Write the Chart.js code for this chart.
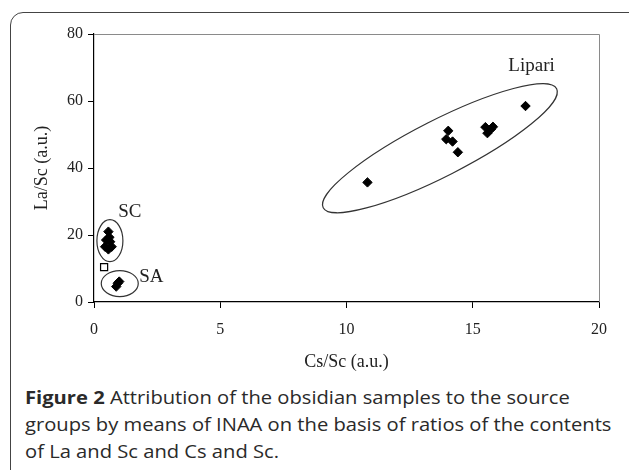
<!DOCTYPE html>
<html>
<head>
<meta charset="utf-8">
<script src="https://cdn.jsdelivr.net/npm/chart.js@4/dist/chart.umd.min.js"></script>
<style>
  html, body { margin: 0; padding: 0; background: #fff; width: 629px; height: 470px; overflow: hidden; }
  #frame { position: absolute; left: 10px; top: 12px; width: 700px; height: 520px;
           border: 1.5px solid #444; border-radius: 13px; box-sizing: border-box; }
  #wrap { position: absolute; left: 0; top: 0; width: 629px; height: 380px; }
  #caption { position: absolute; left: 25px; top: 384px; width: 560px;
             font-family: "Open Sans", sans-serif; font-size: 18px; line-height: 27px; color: #2a2a2a;
             white-space: nowrap; transform: scaleX(1.12); transform-origin: left top; }
  #caption b { font-weight: 700; }
</style>
</head>
<body>
<div id="frame"></div>
<div id="wrap"><canvas id="myChart"></canvas></div>
<div id="caption"><b>Figure 2</b> Attribution of the obsidian samples to the source<br>groups by means of INAA on the basis of ratios of the contents<br>of La and Sc and Cs and Sc.</div>
<script>
// Cs/Sc (x) and La/Sc (y) for each source group
const lipariCs = [10.83, 14.03, 13.95, 14.2, 14.41, 15.5, 15.58, 15.72, 15.8, 17.09];
const lipariLa = [35.7, 51.1, 48.6, 47.9, 44.7, 52.2, 50.4, 51.6, 52.3, 58.5];
const scCs = [0.57, 0.48, 0.64, 0.44, 0.7, 0.57, 0.61];
const scLa = [21.0, 18.5, 18.0, 16.5, 16.5, 15.7, 19.3];
const saCs = [0.94, 0.88, 1.0];
const saLa = [5.6, 4.6, 6.1];
const otherCs = [0.4];
const otherLa = [10.4];
const xTicks = [0, 5, 10, 15, 20];
const yTicks = [0, 20, 40, 60, 80];

const pts = (xs, ys) => xs.map((x, i) => ({x: x, y: ys[i]}));

// group ellipses (centre in data units, radii in px) and group labels
const groupEllipses = [
  {cx: 13.7, cy: 45.9, rx: 131, ry: 28, rot: -27},
  {cx: 0.63, cy: 18.3, rx: 13, ry: 21, rot: 0},
  {cx: 1.02, cy: 5.5, rx: 18.5, ry: 13, rot: 0}
];
const groupLabels = [
  {text: 'Lipari', x: 17.33, y: 70.3, align: 'center'},
  {text: 'SC', x: 0.96, y: 27.0, align: 'left'},
  {text: 'SA', x: 1.79, y: 7.6, align: 'left'}
];

const serif = '"Liberation Serif", "Times New Roman", serif';

const groupsPlugin = {
  id: 'groups',
  afterDatasetsDraw(chart) {
    const ctx = chart.ctx, xs = chart.scales.x, ys = chart.scales.y, area = chart.chartArea;
    ctx.save();
    // grey top and right frame of the plot box
    ctx.strokeStyle = '#8a8a8a';
    ctx.lineWidth = 1;
    ctx.beginPath();
    ctx.moveTo(area.left, area.top + 0.5);
    ctx.lineTo(area.right + 0.5, area.top + 0.5);
    ctx.lineTo(area.right + 0.5, area.bottom);
    ctx.stroke();
    ctx.strokeStyle = '#333';
    ctx.lineWidth = 1.2;
    groupEllipses.forEach(e => {
      ctx.beginPath();
      ctx.ellipse(xs.getPixelForValue(e.cx), ys.getPixelForValue(e.cy), e.rx, e.ry, e.rot * Math.PI / 180, 0, Math.PI * 2);
      ctx.stroke();
    });
    ctx.fillStyle = '#222';
    ctx.font = '19px ' + serif;
    ctx.textBaseline = 'middle';
    groupLabels.forEach(l => {
      ctx.textAlign = l.align;
      ctx.fillText(l.text, xs.getPixelForValue(l.x), ys.getPixelForValue(l.y));
    });
    ctx.restore();
  }
};

const diamond = {pointStyle: 'rectRot', pointRadius: 4.7, pointBackgroundColor: '#000', pointBorderColor: '#000', pointBorderWidth: 1, showLine: false};

const data = {
  datasets: [
    Object.assign({label: 'Lipari', data: pts(lipariCs, lipariLa)}, diamond),
    Object.assign({label: 'SC', data: pts(scCs, scLa)}, diamond),
    Object.assign({label: 'SA', data: pts(saCs, saLa)}, diamond),
    {label: 'other', data: pts(otherCs, otherLa), pointStyle: 'rect', pointRadius: 5,
     pointBackgroundColor: '#fff', pointBorderColor: '#000', pointBorderWidth: 1.2, showLine: false}
  ]
};

const config = {
  type: 'scatter',
  data: data,
  options: {
    responsive: true,
    maintainAspectRatio: false,
    animation: false,
    layout: {padding: {left: 0, top: 34, right: 30, bottom: 0}},
    plugins: {legend: {display: false}, tooltip: {enabled: false}},
    scales: {
      x: {
        type: 'linear', min: 0, max: 20,
        afterBuildTicks: s => { s.ticks = xTicks.map(v => ({value: v})); },
        ticks: {color: '#222', font: {family: serif, size: 16}, padding: 12},
        grid: {display: true, drawOnChartArea: false, drawTicks: true, tickLength: 6, color: '#000'},
        border: {display: true, color: '#000', width: 1.2},
        title: {display: true, text: 'Cs/Sc (a.u.)', color: '#222', font: {family: serif, size: 18}, padding: {top: 0, bottom: 7}},
        afterFit: s => { s.height = 78; }
      },
      y: {
        type: 'linear', min: 0, max: 80,
        afterBuildTicks: s => { s.ticks = yTicks.map(v => ({value: v})); },
        ticks: {color: '#222', font: {family: serif, size: 16}, padding: 5},
        grid: {display: true, drawOnChartArea: false, drawTicks: true, tickLength: 6, color: '#000'},
        border: {display: true, color: '#000', width: 1.2},
        title: {display: true, text: 'La/Sc (a.u.)', color: '#222', font: {family: serif, size: 18}, padding: {top: 31, bottom: 0}},
        afterFit: s => { s.width = 94; }
      }
    }
  },
  plugins: [groupsPlugin]
};

var myChart = new Chart(document.getElementById('myChart'), config);
</script>
</body>
</html>
